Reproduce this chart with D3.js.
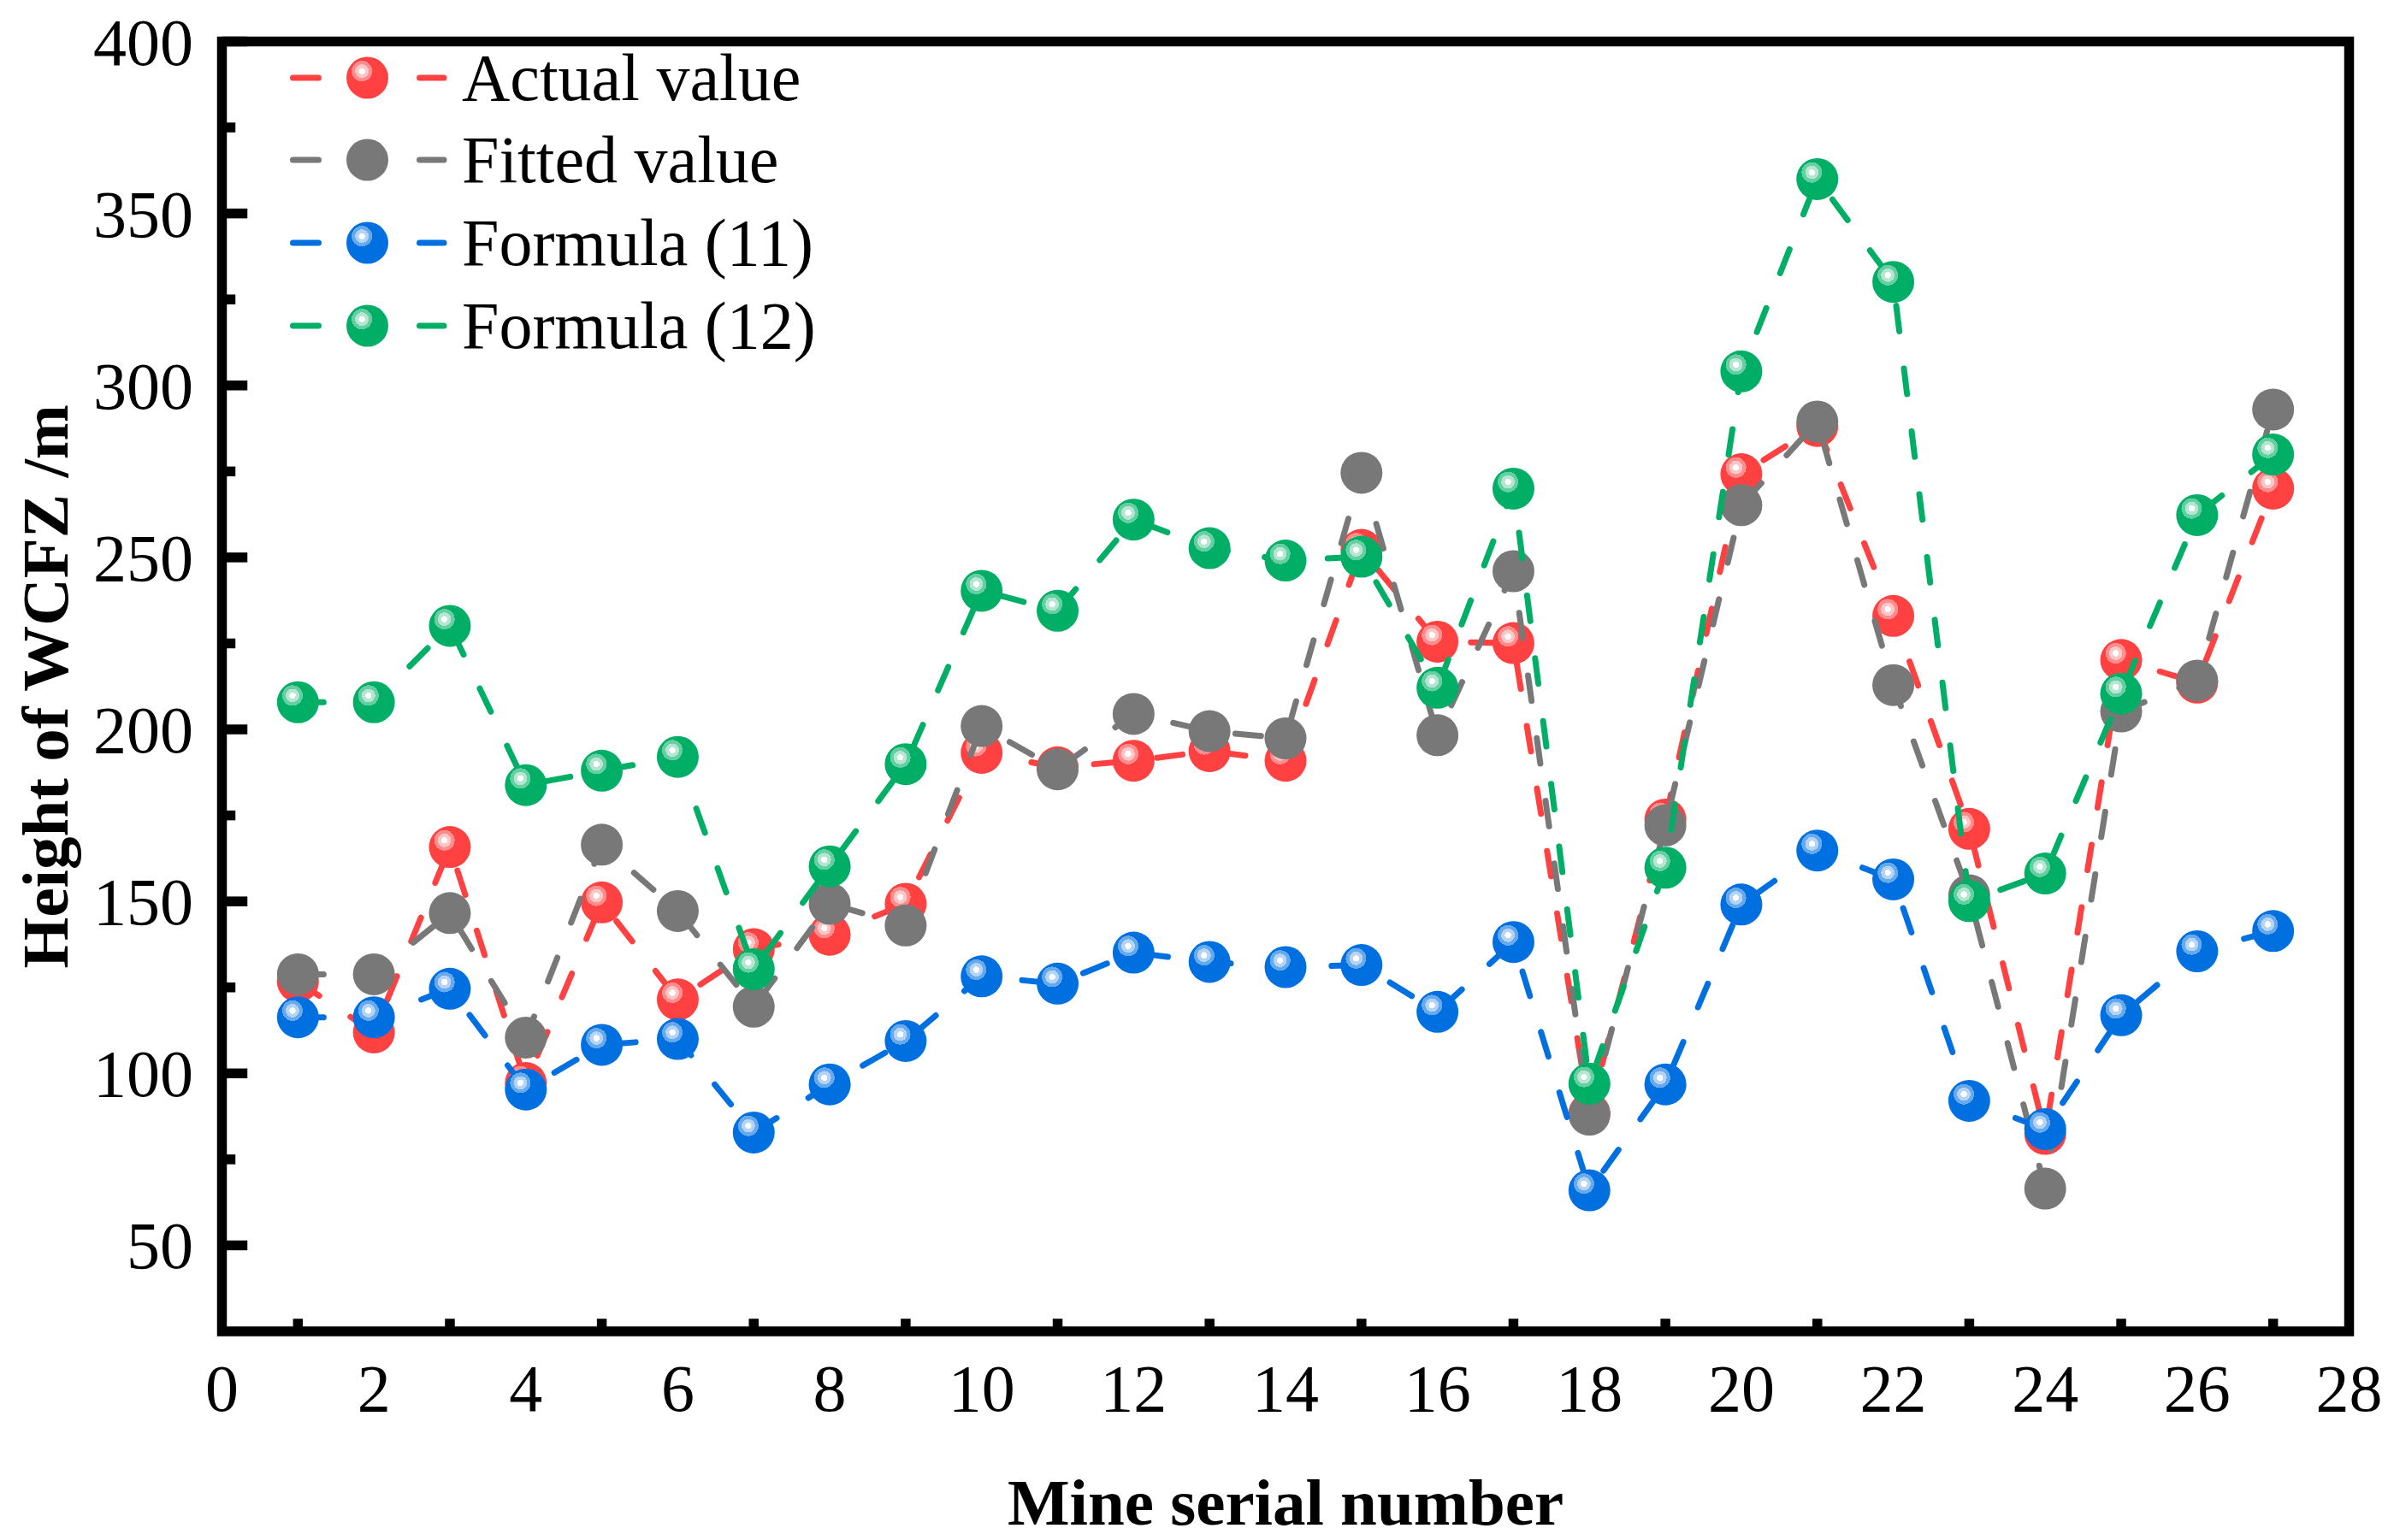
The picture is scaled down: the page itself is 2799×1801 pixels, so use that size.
<!DOCTYPE html>
<html>
<head>
<meta charset="utf-8">
<script src="https://cdn.jsdelivr.net/npm/d3@7/dist/d3.min.js"></script>
<style>
  html, body { margin: 0; padding: 0; background: #fff; }
  svg { display: block; }
  text { font-family: "Times New Roman", "Liberation Serif", serif; fill: #000; }
</style>
</head>
<body>
<svg id="chart"></svg>
<script>
// Values
const mines = [1, 2, 3, 4, 5, 6, 7, 8, 9, 10, 11, 12, 13, 14, 15, 16, 17, 18, 19, 20, 21, 22, 23, 24, 25, 26, 27];
const actualValue = [126.7, 111.9, 165.8, 97.2, 149.7, 121.5, 136.1, 140.3, 149.3, 193.2, 189.0, 190.9, 193.7, 190.9,
  252.2, 225.5, 225.1, 88.4, 173.8, 274.2, 288.2, 233.0, 171.1, 82.4, 220.2, 213.6, 270.0];
const fittedValue = [128.8, 128.8, 146.6, 110.4, 166.5, 147.2, 119.4, 149.3, 143.0, 201.0, 188.4, 204.5, 199.5, 197.4,
  274.6, 198.3, 246.0, 88.0, 172.1, 265.2, 289.5, 212.9, 151.8, 66.5, 205.2, 214.2, 293.0];
const formula11 = [116.3, 116.3, 124.6, 95.3, 108.3, 110.0, 82.8, 96.8, 109.4, 128.2, 126.1, 135.1, 132.4, 130.9,
  131.5, 117.9, 138.2, 66.0, 96.8, 149.1, 164.8, 156.4, 92.0, 83.8, 116.9, 135.5, 141.4];
const formula12 = [207.9, 207.9, 230.1, 183.8, 188.0, 192.0, 130.3, 160.2, 189.9, 240.3, 234.5, 261.0, 252.7, 249.1,
  250.2, 212.1, 270.0, 97.0, 159.8, 304.1, 360.0, 330.1, 150.1, 158.1, 210.4, 262.3, 279.9];

const seriesNames = ["Actual value", "Fitted value", "Formula (11)", "Formula (12)"];
const xTickValues = [0, 2, 4, 6, 8, 10, 12, 14, 16, 18, 20, 22, 24, 26, 28];
const xMinorTicks = [1, 3, 5, 7, 9, 11, 13, 15, 17, 19, 21, 23, 25, 27];
const yTickValues = [50, 100, 150, 200, 250, 300, 350, 400];
const yMinorTicks = [75, 125, 175, 225, 275, 325, 375];

// Layout
let width = 2799,
  height = 1801,
  plot = { left: 259.5, right: 2746.5, top: 48.5, bottom: 1557 },
  axisWidth = 11.5,
  lineWidth = 7,
  dash = "30 44",
  markerR = 24.5,
  fontSize = 78,
  titleSize = 77;

const series = [
  { name: seriesNames[0], values: actualValue, color: "#ff4141", shiny: true },
  { name: seriesNames[1], values: fittedValue, color: "#787878", shiny: false },
  { name: seriesNames[2], values: formula11, color: "#0070e0", shiny: true },
  { name: seriesNames[3], values: formula12, color: "#00ae66", shiny: true }
];

const svg = d3.select("#chart").attr("width", width).attr("height", height);

// Glossy marker gradients
const defs = svg.append("defs");
series.forEach((s, i) => {
  s.fill = s.color;
  if (!s.shiny) return;
  const light = d3.interpolateRgb(s.color, "#ffffff");
  const grad = defs
    .append("radialGradient")
    .attr("id", "shine" + i)
    .attr("cx", 0.37)
    .attr("cy", 0.34)
    .attr("fx", 0.37)
    .attr("fy", 0.34)
    .attr("r", 0.5);
  [
    [0, "#ffffff"], [0.15, "#ffffff"],
    [0.15, light(0.7)], [0.32, light(0.7)],
    [0.32, light(0.4)], [0.49, light(0.4)],
    [0.49, s.color], [1, s.color]
  ].forEach(st => {
    grad.append("stop").attr("offset", st[0]).attr("stop-color", st[1]);
  });
  s.fill = "url(#shine" + i + ")";
});

// Scales
const xScale = d3.scaleLinear().domain([0, 28]).range([plot.left, plot.right]);
const yScale = d3.scaleLinear().domain([25, 400]).range([plot.bottom, plot.top]);

// Ticks (inward, same weight as the frame)
const ticks = svg.append("g").attr("stroke", "#000").attr("stroke-width", axisWidth);

ticks
  .selectAll(".xminor")
  .data(xMinorTicks)
  .enter()
  .append("line")
  .attr("x1", d => xScale(d))
  .attr("x2", d => xScale(d))
  .attr("y1", plot.bottom)
  .attr("y2", plot.bottom - axisWidth / 2 - 9);

ticks
  .selectAll(".ymajor")
  .data(yTickValues)
  .enter()
  .append("line")
  .attr("x1", plot.left)
  .attr("x2", plot.left + axisWidth / 2 + 24)
  .attr("y1", d => yScale(d))
  .attr("y2", d => yScale(d));

ticks
  .selectAll(".yminor")
  .data(yMinorTicks)
  .enter()
  .append("line")
  .attr("x1", plot.left)
  .attr("x2", plot.left + axisWidth / 2 + 10)
  .attr("y1", d => yScale(d))
  .attr("y2", d => yScale(d));

// Tick labels
svg
  .append("g")
  .selectAll("text")
  .data(xTickValues)
  .enter()
  .append("text")
  .attr("x", d => xScale(d))
  .attr("y", 1650)
  .attr("text-anchor", "middle")
  .attr("font-size", fontSize)
  .text(d => d);

svg
  .append("g")
  .selectAll("text")
  .data(yTickValues)
  .enter()
  .append("text")
  .attr("x", 226)
  .attr("y", d => yScale(d) + 27)
  .attr("text-anchor", "end")
  .attr("font-size", fontSize)
  .text(d => d);

// Axis titles
svg
  .append("text")
  .attr("x", (plot.left + plot.right) / 2)
  .attr("y", 1783)
  .attr("text-anchor", "middle")
  .attr("font-size", titleSize)
  .attr("font-weight", "bold")
  .text("Mine serial number");

svg
  .append("text")
  .attr("transform", "translate(79," + (plot.top + plot.bottom) / 2 + ") rotate(-90)")
  .attr("text-anchor", "middle")
  .attr("font-size", titleSize)
  .attr("font-weight", "bold")
  .text("Height of WCFZ /m");

// Series: dashed line, then its markers, one series over the other
const line = d3
  .line()
  .x((d, i) => xScale(mines[i]))
  .y(d => yScale(d));

series.forEach(s => {
  const g = svg.append("g");

  g.append("path")
    .datum(s.values)
    .attr("d", line)
    .attr("fill", "none")
    .attr("stroke", s.color)
    .attr("stroke-width", lineWidth)
    .attr("stroke-dasharray", dash)
    .attr("stroke-linecap", "round");

  g.selectAll("circle")
    .data(s.values)
    .enter()
    .append("circle")
    .attr("cx", (d, i) => xScale(mines[i]))
    .attr("cy", d => yScale(d))
    .attr("r", markerR)
    .attr("fill", s.fill);
});

// Legend
const legendRows = [91, 187, 284, 381];
series.forEach((s, i) => {
  const row = svg.append("g").attr("transform", "translate(0," + legendRows[i] + ")");

  row
    .append("line")
    .attr("x1", 342.5)
    .attr("x2", 519)
    .attr("stroke", s.color)
    .attr("stroke-width", lineWidth)
    .attr("stroke-dasharray", dash)
    .attr("stroke-linecap", "round");

  row.append("circle").attr("cx", 429.5).attr("cy", 0).attr("r", markerR).attr("fill", s.fill);

  row
    .append("text")
    .attr("x", 540)
    .attr("y", 26)
    .attr("font-size", fontSize)
    .text(s.name);
});

// Frame
svg
  .append("rect")
  .attr("x", plot.left)
  .attr("y", plot.top)
  .attr("width", plot.right - plot.left)
  .attr("height", plot.bottom - plot.top)
  .attr("fill", "none")
  .attr("stroke", "#000")
  .attr("stroke-width", axisWidth);
</script>
</body>
</html>
